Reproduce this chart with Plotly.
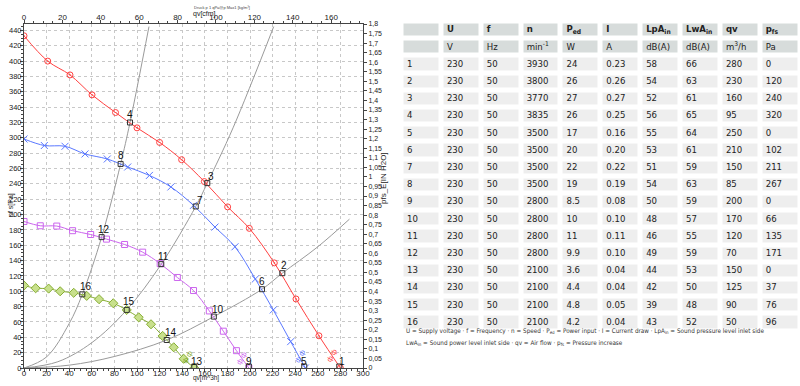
import plotly.graph_objects as go

# ---------------- fan curves (qv [m^3/h], pfs [Pa]) ----------------
q_red = [0, 21, 40.7, 60.2, 81, 100, 120, 139.5, 159.6, 180.2, 199.4, 221.5, 240.7, 261, 280]
p_red = [433, 400, 382, 356, 333, 313, 294, 271.5, 243, 210, 182, 137, 90, 42, 0]

q_blue = [0, 18, 36.3, 54, 73.7, 91.8, 111, 130, 150, 169, 186.7, 204.7, 220.6, 236, 249]
p_blue = [298.5, 290, 289, 279, 272.4, 262, 251, 236, 212, 183.7, 158, 116, 75.7, 34.4, 0]

q_mag = [0, 14.4, 29, 43, 59, 73, 89, 105, 120.5, 135.7, 150, 164, 176.4, 188, 199]
p_mag = [191, 185.4, 185, 179, 174, 168, 161, 151, 136, 118, 101, 74.4, 48, 22.6, 0]

q_grn = [0, 10.3, 21.8, 32, 44, 55.5, 66.4, 79, 90.9, 101.5, 112.4, 122.7, 132.5, 141.3, 150.7]
p_grn = [107.5, 104, 103.5, 100, 98, 94, 89.7, 84.4, 75.7, 66, 57, 41.8, 27, 12, 0]

# ---------------- system curves ----------------
sysA_q = [0, 20, 40, 51.6, 68.7, 85.5, 93.8, 110.6]
sysA_p = [0, 14.5, 58, 96, 170.6, 266, 320, 445]
sysB_q = [0, 30, 60, 90.9, 121.5, 152, 162.2, 185, 221]
sysB_p = [0, 8.2, 33, 75.7, 135.4, 210.6, 241, 313, 445]
sysC_q = [0, 40, 80, 126.3, 168, 210.6, 228.6, 260, 288]
sysC_p = [0, 3.7, 15, 36.5, 67, 102.7, 123.6, 158, 194]

# ---------------- operating points ----------------
op_id = ["1", "2", "3", "4", "5", "6", "7", "8", "9", "10", "11", "12", "13", "14", "15", "16"]
op_q = [279, 228.6, 162.2, 93.8, 248, 210.6, 152, 85.5, 199, 168, 121.5, 68.7, 150.7, 126.3, 90.9, 51.6]
op_p = [2, 123.6, 241, 320, 2, 102.7, 210.6, 266, 2, 67, 135.4, 170.6, 2, 36.5, 75.7, 96]

# ---------------- table ----------------
tbl_heads = ["U", "f", "n", "P<sub>ed</sub>", "I", "LpA<sub>in</sub>", "LwA<sub>in</sub>", "qv", "p<sub>fs</sub>"]
tbl_units = ["V", "Hz", "min<sup>-1</sup>", "W", "A", "dB(A)", "dB(A)", "m<sup>3</sup>/h", "Pa"]
row_no = ["1", "2", "3", "4", "5", "6", "7", "8", "9", "10", "11", "12", "13", "14", "15", "16"]
col_U = ["230"] * 16
col_f = ["50"] * 16
col_n = ["3930", "3800", "3770", "3835", "3500", "3500", "3500", "3500",
         "2800", "2800", "2800", "2800", "2100", "2100", "2100", "2100"]
col_P = ["24", "26", "27", "26", "17", "20", "22", "19", "8.5", "10", "11", "9.9", "3.6", "4.4", "4.8", "4.2"]
col_I = ["0.23", "0.26", "0.27", "0.25", "0.16", "0.20", "0.22", "0.19",
         "0.08", "0.10", "0.11", "0.10", "0.04", "0.04", "0.05", "0.04"]
col_LpA = ["58", "54", "52", "56", "55", "53", "51", "54", "50", "48", "46", "49", "44", "42", "39", "43"]
col_LwA = ["66", "63", "61", "65", "64", "61", "59", "63", "59", "57", "55", "59", "53", "50", "48", "52"]
col_qv = ["280", "230", "160", "95", "250", "210", "150", "85", "200", "170", "120", "70", "150", "125", "90", "50"]
col_pfs = ["0", "120", "240", "320", "0", "102", "211", "267", "0", "66", "135", "171", "0", "37", "76", "96"]

FONT = "Liberation Sans, Arial, sans-serif"
NARROW = "Liberation Sans Narrow, Arial Narrow, DejaVu Sans Condensed, Liberation Sans, Arial"

fig = go.Figure()

for qs, ps in [(sysA_q, sysA_p), (sysB_q, sysB_p), (sysC_q, sysC_p)]:
    fig.add_trace(go.Scatter(x=qs, y=ps, mode="lines", hoverinfo="skip",
                             line=dict(color="#9a9a9a", width=1, shape="spline")))

fans = [
    (q_red, p_red, "#ff4040", dict(symbol="circle-open-dot", size=6, color="#ff4040", line=dict(width=1))),
    (q_blue, p_blue, "#5a78ff", dict(symbol="x-thin-open", size=7, color="#5a78ff", line=dict(width=1, color="#5a78ff"))),
    (q_mag, p_mag, "#cc66ee", dict(symbol="square-open", size=6, color="#cc66ee", line=dict(width=1))),
    (q_grn, p_grn, "#86ad33", dict(symbol="diamond", size=7, color="#c8e08c", line=dict(width=1, color="#86ad33"))),
]
for qs, ps, col, mk in fans:
    fig.add_trace(go.Scatter(x=qs, y=ps, mode="lines+markers", hoverinfo="skip",
                             line=dict(color=col, width=1, shape="spline"), marker=mk))

fig.add_trace(go.Scatter(x=op_q, y=op_p, mode="markers", hoverinfo="skip",
                         marker=dict(symbol="square-open", size=5, color="#333333", line=dict(width=1))))

# dummy trace for secondary axes
fig.add_trace(go.Scatter(x=[0], y=[0], xaxis="x2", yaxis="y2", mode="markers",
                         marker=dict(opacity=0), hoverinfo="skip"))

# operating point labels
lbl_dx = [3, 2, 4, 0, 0, 0, 4, 0, 0, 4, 2, 2, 3, 4, 2, 4]
lbl_dy = [5, 8, 7, 8, 5, 8, 6, 8, 5, 7, 8, 8, 5, 8, 8, 8]
annotations = []
for i in range(len(op_id)):
    annotations.append(dict(x=op_q[i], y=op_p[i], text=op_id[i], showarrow=False,
                            xshift=lbl_dx[i], yshift=lbl_dy[i], xref="x", yref="y",
                            font=dict(family=FONT, size=10, color="#111111")))

# small rotated marks at curve ends
end_marks = [(273, 17, "#ff4040"), (245, 15, "#5a78ff"), (193, 13, "#cc66ee"), (145, 14, "#86ad33")]
for qx, py, col in end_marks:
    annotations.append(dict(x=qx, y=py, text="ф ф", showarrow=False, textangle=-60,
                            xref="x", yref="y", font=dict(family=FONT, size=7, color=col)))


def px_x(p):
    return p / 800.0


def px_y(p):
    return (386.0 - p) / 386.0


annotations += [
    dict(x=px_x(191), y=px_y(384), text="qv[m^3h]", showarrow=False, xref="paper", yref="paper",
         font=dict(family=FONT, size=6.5, color="#222")),
    dict(x=px_x(191), y=px_y(8), text="qv[cfm]", showarrow=False, xref="paper", yref="paper",
         font=dict(family=FONT, size=7, color="#222")),
    dict(x=px_x(192), y=px_y(2.5), text="Druck p 1 qPa@p Max1 [kg/m³]", showarrow=False,
         xref="paper", yref="paper", font=dict(family=FONT, size=4, color="#444")),
    dict(x=px_x(5), y=px_y(205), text="pf s[Pa]", showarrow=False, textangle=-90,
         xref="paper", yref="paper", font=dict(family=FONT, size=7, color="#222")),
    dict(x=px_x(383), y=px_y(178), text="pfs_E[IN H2O]", showarrow=False, textangle=-90,
         xref="paper", yref="paper", font=dict(family=FONT, size=8, color="#222")),
    dict(x=px_x(404), y=px_y(337), xanchor="left", showarrow=False, xref="paper", yref="paper",
         text="U = Supply voltage · f = Frequency · n = Speed · P<sub>ed</sub> = Power input · I = Current draw · LpA<sub>in</sub> = Sound pressure level inlet side",
         font=dict(family=NARROW, size=6.3, color="#333")),
    dict(x=px_x(404), y=px_y(349), xanchor="left", showarrow=False, xref="paper", yref="paper",
         text="LwA<sub>in</sub> = Sound power level inlet side · qv = Air flow · p<sub>fs</sub> = Pressure increase",
         font=dict(family=NARROW, size=6.3, color="#333")),
]

# ---------------- table as gapped heatmap + text ----------------
HDR = "#d7dcdb"
LIGHT = "#eeeeee"
cols = [row_no, col_U, col_f, col_n, col_P, col_I, col_LpA, col_LwA, col_qv, col_pfs]
heads = [""] + ["<b>" + h + "</b>" for h in tbl_heads]
units = [""] + tbl_units
n_rows = 2 + len(row_no)
z = [[1] * 10 for _ in range(2)] + [[0] * 10 for _ in range(len(row_no))]
fig.add_trace(go.Heatmap(z=z, x=list(range(10)), y=list(range(n_rows)), xaxis="x3", yaxis="y3",
                         colorscale=[[0, LIGHT], [1, HDR]], showscale=False, xgap=5, ygap=5,
                         hoverinfo="skip", zmin=0, zmax=1))
tx, ty, tt = [], [], []
for c in range(10):
    col_text = [heads[c], units[c]] + cols[c]
    for r, t in enumerate(col_text):
        if t:
            tx.append(c - 0.36)
            ty.append(r)
            tt.append(t)
fig.add_trace(go.Scatter(x=tx, y=ty, text=tt, mode="text", textposition="middle right",
                         xaxis="x3", yaxis="y3", hoverinfo="skip",
                         textfont=dict(family=NARROW, size=9.5, color="#222")))

tick_font = dict(family=FONT, size=8, color="#222")
fig.update_layout(
    width=800, height=386, margin=dict(l=0, r=0, t=0, b=0),
    paper_bgcolor="white", plot_bgcolor="white", showlegend=False,
    separators=",.",
    annotations=annotations,
    xaxis=dict(domain=[0.03, 0.45375], range=[0, 300], dtick=20, tick0=0, automargin=False,
               showgrid=True, gridcolor="#c8c8c8", griddash="dot", gridwidth=1,
               showline=True, linecolor="#444", linewidth=1, ticks="outside", ticklen=3,
               tickcolor="#444", tickfont=tick_font, zeroline=False, ticklabelstandoff=-6,
               minor=dict(dtick=5, ticks="outside", ticklen=2, tickcolor="#444", showgrid=False)),
    xaxis2=dict(overlaying="x", side="top", anchor="y", range=[0, 176.57], dtick=20, tick0=0,
                automargin=False, ticklabelstandoff=-3,
                showgrid=False, showline=True, linecolor="#444", linewidth=1, ticks="outside",
                ticklen=3, tickcolor="#444", tickfont=tick_font, zeroline=False,
                minor=dict(dtick=5, ticks="outside", ticklen=2, tickcolor="#444")),
    yaxis=dict(domain=[0.0466, 0.9378], range=[0, 448.36], dtick=20, tick0=0, automargin=False,
               showgrid=True, gridcolor="#c8c8c8", griddash="dot", gridwidth=1,
               showline=True, linecolor="#444", linewidth=1, ticks="outside", ticklen=3,
               tickcolor="#444", tickfont=dict(family=FONT, size=7.5, color="#222"),
               zeroline=False, ticklabelstandoff=-3,
               minor=dict(dtick=5, ticks="outside", ticklen=2, tickcolor="#444", showgrid=False)),
    yaxis2=dict(overlaying="y", side="right", anchor="x", range=[0, 1.8], dtick=0.05, tick0=0,
                automargin=False,
                showgrid=False, showline=True, linecolor="#444", linewidth=1, ticks="outside",
                ticklen=3, tickcolor="#444", tickfont=dict(family=FONT, size=7, color="#222"),
                zeroline=False),
    xaxis3=dict(domain=[401.5 / 800, 1.0], range=[-0.5, 9.5], anchor="y3", visible=False,
                automargin=False, fixedrange=True),
    yaxis3=dict(domain=[(386 - 331.1) / 386, (386 - 21.5) / 386], range=[n_rows - 0.5, -0.5],
                anchor="x3", visible=False, automargin=False, fixedrange=True),
)

fig.write_html("out.html", config={"displayModeBar": False},
               post_script="document.body.style.margin='0px';")
